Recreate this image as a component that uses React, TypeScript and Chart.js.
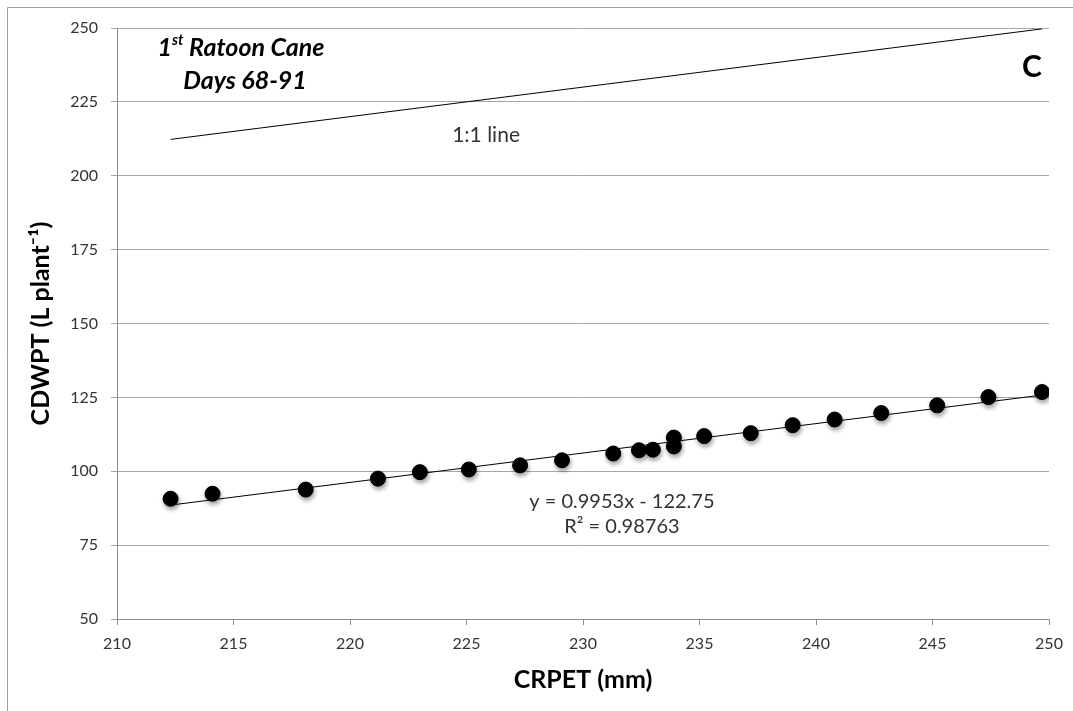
import React, { useEffect, useRef } from "react";
import { Chart, registerables } from "chart.js";

Chart.register(...registerables);

// ---- Data ----
const crpet: number[] = [
  212.3, 214.1, 218.1, 221.2, 223.0, 225.1, 227.3, 229.1, 231.3, 232.4, 233.0,
  233.9, 233.9, 235.2, 237.2, 239.0, 240.8, 242.8, 245.2, 247.4, 249.7,
];
const cdwpt: number[] = [
  90.7, 92.4, 93.8, 97.5, 99.7, 100.6, 102.0, 103.7, 106.0, 107.1, 107.3,
  111.4, 108.4, 111.9, 112.9, 115.6, 117.5, 119.7, 122.3, 125.1, 126.8,
];
const xTickValues: number[] = [210, 215, 220, 225, 230, 235, 240, 245, 250];
const yTickValues: number[] = [50, 75, 100, 125, 150, 175, 200, 225, 250];
const trendSlope = 0.9953;
const trendIntercept = -122.75;
const trendR2 = "0.98763";
const equationText = "y = 0.9953x - 122.75";
const r2Text = "R\u00B2 = " + trendR2;
const oneToOneLabel = "1:1 line";
const panelLetter = "C";
const titleMain = "1";
const titleSup = "st";
const titleRest = " Ratoon Cane";
const titleLine2 = "Days 68-91";
const xTitle = "CRPET (mm)";
const yTitle = "CDWPT (L plant\u207B\u00B9)";

const FONT = "Lato, 'Open Sans', 'DejaVu Sans', sans-serif";

export default function App() {
  const ref = useRef<HTMLCanvasElement | null>(null);

  useEffect(() => {
    const canvas = ref.current;
    if (!canvas) return;

    const xMin = Math.min(...crpet);
    const xMax = Math.max(...crpet);
    const trendData = [
      { x: xMin, y: trendSlope * xMin + trendIntercept },
      { x: 250, y: trendSlope * 250 + trendIntercept },
    ];
    const oneToOne = [
      { x: xMin, y: xMin },
      { x: xMax, y: xMax },
    ];
    const points = crpet.map((x, i) => ({ x, y: cdwpt[i] }));

    const annot = {
      id: "annot",
      beforeDraw(chart: any) {
        const ctx = chart.ctx;
        ctx.save();
        ctx.fillStyle = "#ffffff";
        ctx.fillRect(0, 0, chart.width, chart.height);
        ctx.strokeStyle = "#a0a0a0";
        ctx.lineWidth = 1;
        ctx.beginPath();
        ctx.moveTo(7.5, chart.height);
        ctx.lineTo(7.5, 7.5);
        ctx.lineTo(chart.width, 7.5);
        ctx.stroke();
        ctx.restore();
      },
      beforeDatasetDraw(chart: any, args: any) {
        if (args.index === 0) {
          const ctx = chart.ctx;
          ctx.save();
          ctx.shadowColor = "rgba(0,0,0,0.35)";
          ctx.shadowBlur = 4;
          ctx.shadowOffsetX = 1;
          ctx.shadowOffsetY = 3;
        }
      },
      afterDatasetDraw(chart: any, args: any) {
        if (args.index === 0) chart.ctx.restore();
      },
      afterDraw(chart: any) {
        const ctx = chart.ctx;
        const xs = chart.scales.x;
        const ys = chart.scales.y;
        ctx.save();
        ctx.textBaseline = "middle";

        // Title (bold italic) with superscript
        const mainFont = `italic bold 25px ${FONT}`;
        const supFont = `italic bold 15px ${FONT}`;
        ctx.font = mainFont;
        const w1 = ctx.measureText(titleMain).width;
        const w3 = ctx.measureText(titleRest).width;
        ctx.font = supFont;
        const w2 = ctx.measureText(titleSup).width;
        const total = w1 + w2 + w3;
        let cx = 241 - total / 2;
        const ty = 48;
        ctx.fillStyle = "#000";
        ctx.textAlign = "left";
        ctx.font = mainFont;
        ctx.fillText(titleMain, cx, ty);
        cx += w1;
        ctx.font = supFont;
        ctx.fillText(titleSup, cx, ty - 8);
        cx += w2;
        ctx.font = mainFont;
        ctx.fillText(titleRest, cx, ty);
        ctx.textAlign = "center";
        ctx.fillText(titleLine2, 245, 81);

        // Panel letter
        ctx.font = `bold 30px ${FONT}`;
        ctx.fillText(panelLetter, 1032, 67);

        // 1:1 line label
        ctx.fillStyle = "#333";
        ctx.font = `21px ${FONT}`;
        ctx.fillText(oneToOneLabel, xs.getPixelForValue(225.84), ys.getPixelForValue(213.7));

        // Equation
        ctx.font = `20px ${FONT}`;
        const ex = xs.getPixelForValue(231.67);
        ctx.fillText(equationText, ex, ys.getPixelForValue(89.6));
        ctx.fillText(r2Text, ex, ys.getPixelForValue(81.3));
        ctx.restore();
      },
    };

    const chart = new Chart(canvas, {
      type: "scatter",
      data: {
        datasets: [
          {
            label: "CDWPT",
            data: points,
            backgroundColor: "#000",
            borderColor: "#000",
            pointRadius: 7.5,
            pointHoverRadius: 7.5,
            showLine: false,
            order: 0,
          },
          {
            label: "Linear",
            data: trendData,
            showLine: true,
            borderColor: "#000",
            borderWidth: 1,
            pointRadius: 0,
            order: 1,
          },
          {
            label: "1:1",
            data: oneToOne,
            showLine: true,
            borderColor: "#000",
            borderWidth: 1,
            pointRadius: 0,
            order: 1,
          },
        ],
      },
      options: {
        responsive: false,
        animation: false,
        devicePixelRatio: 1,
        layout: { padding: { top: 28, right: 24, left: 0, bottom: 0 } },
        plugins: {
          legend: { display: false },
          tooltip: { enabled: false },
        },
        scales: {
          x: {
            type: "linear",
            min: 210,
            max: 250,
            afterBuildTicks: (scale: any) => {
              scale.ticks = xTickValues.map((v) => ({ value: v }));
            },
            afterFit: (scale: any) => {
              scale.height = 92;
              scale.paddingLeft = 0;
              scale.paddingRight = 0;
            },
            ticks: {
              color: "#333",
              font: { family: FONT, size: 16 },
              padding: 9,
              maxRotation: 0,
            },
            grid: {
              drawOnChartArea: false,
              drawTicks: true,
              tickLength: 6,
              color: "#8c8c8c",
            },
            border: { color: "#8c8c8c", width: 1 },
            title: {
              display: true,
              text: xTitle,
              color: "#000",
              font: { family: FONT, size: 25, weight: "bold" },
              padding: { top: 0, bottom: 16 },
            },
          },
          y: {
            type: "linear",
            min: 50,
            max: 250,
            afterBuildTicks: (scale: any) => {
              scale.ticks = yTickValues.map((v) => ({ value: v }));
            },
            afterFit: (scale: any) => {
              scale.width = 117;
              scale.paddingTop = 0;
              scale.paddingBottom = 0;
            },
            ticks: {
              color: "#333",
              font: { family: FONT, size: 16 },
              padding: 13,
            },
            grid: {
              drawOnChartArea: true,
              drawTicks: true,
              tickLength: 6,
              color: "#a6a6a6",
            },
            border: { color: "#8c8c8c", width: 1 },
            title: {
              display: true,
              text: yTitle,
              color: "#000",
              font: { family: FONT, size: 25, weight: "bold" },
              padding: { top: 26, bottom: 0 },
            },
          },
        },
      },
      plugins: [annot],
    });

    return () => chart.destroy();
  }, []);

  return (
    <div style={{ position: "absolute", left: 0, top: 0, width: 1073, height: 711 }}>
      <canvas ref={ref} width={1073} height={711} />
    </div>
  );
}
